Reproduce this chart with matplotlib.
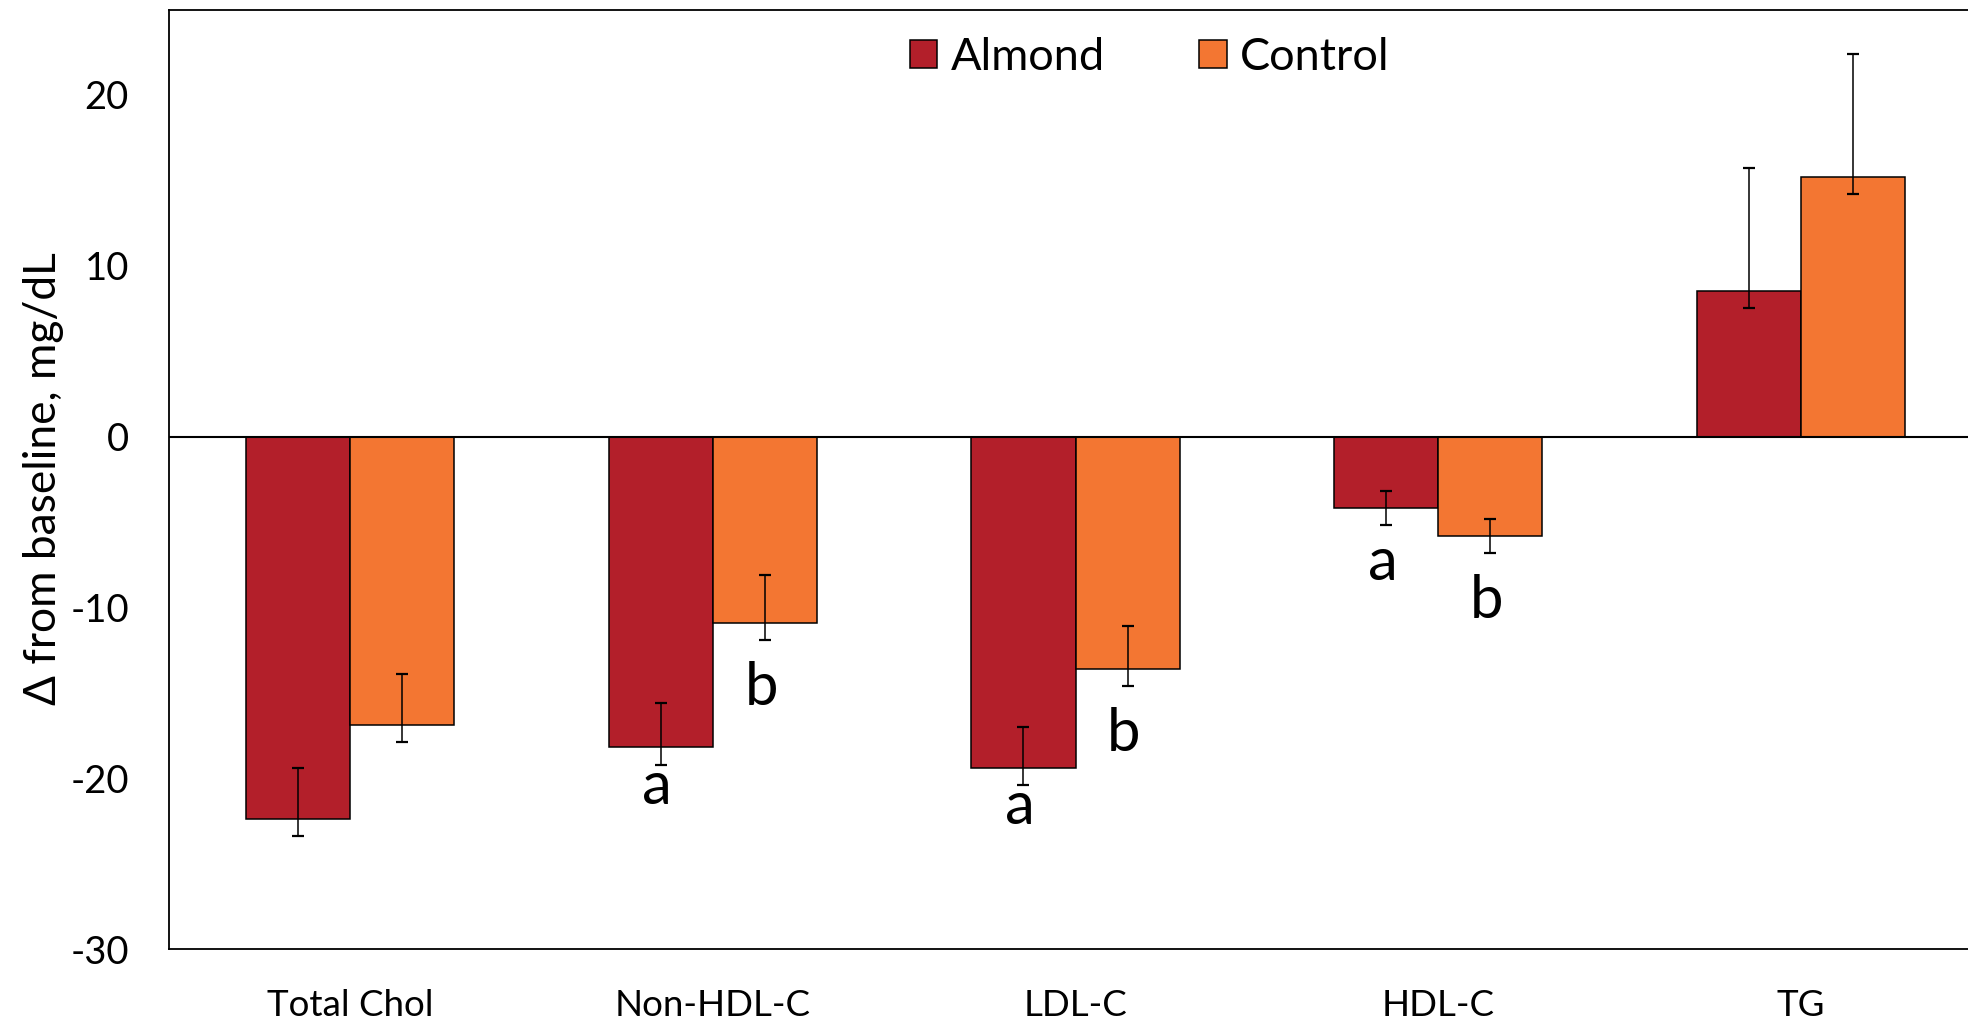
import numpy as np
import matplotlib.pyplot as plt

plt.rcParams['font.family'] = ['Lato', 'DejaVu Sans']
plt.rcParams['axes.unicode_minus'] = False

categories = ['Total Chol', 'Non-HDL-C', 'LDL-C', 'HDL-C', 'TG']
groups = ['Almond', 'Control']

# change from baseline, mg/dL
almond = [-22.4, -18.2, -19.4, -4.2, 8.5]
control = [-16.9, -10.9, -13.6, -5.8, 15.2]

# error bars are asymmetric (lower, upper)
almond_err_low = [1.0, 1.0, 1.0, 1.0, 1.0]
almond_err_high = [3.0, 2.6, 2.4, 1.0, 7.2]
control_err_low = [1.0, 1.0, 1.0, 1.0, 1.0]
control_err_high = [3.0, 2.8, 2.5, 1.0, 7.2]

# significance letters: (category index, group, letter)
letters = [(1, 'Almond', 'a'), (1, 'Control', 'b'),
           (2, 'Almond', 'a'), (2, 'Control', 'b'),
           (3, 'Almond', 'a'), (3, 'Control', 'b')]

red = '#B31F2A'
orange = '#F37632'

fig = plt.figure(figsize=(19.68, 10.22), dpi=100)
ax = fig.add_axes([0.0859, 0.0714, 0.9212, 0.9193])

x = np.arange(len(categories))
w = 0.287

ax.bar(x - w / 2, almond, w, color=red, edgecolor='black', linewidth=1.1,
       label='Almond', zorder=2)
ax.bar(x + w / 2, control, w, color=orange, edgecolor='black', linewidth=1.1,
       label='Control', zorder=2)

ax.errorbar(x - w / 2, almond, yerr=[almond_err_low, almond_err_high], fmt='none',
            ecolor='black', elinewidth=1.1, capsize=4, capthick=1.6, zorder=3)
ax.errorbar(x + w / 2, control, yerr=[control_err_low, control_err_high], fmt='none',
            ecolor='black', elinewidth=1.1, capsize=4, capthick=1.6, zorder=3)

ax.axhline(0, color='black', linewidth=1.5, zorder=4)

# letters sit under the lower whisker
offsets = {'a': 2.3, 'b': 3.8}
for i, g, s in letters:
    if g == 'Almond':
        xpos, base = x[i] - w / 2, almond[i] - almond_err_low[i]
    else:
        xpos, base = x[i] + w / 2, control[i] - control_err_low[i]
    off = offsets[s] if i != 3 or s == 'b' else 3.2
    ax.text(xpos - 0.01, base - off, s, ha='center', va='baseline', fontsize=43)

ax.set_xlim(-0.5, 4.5)
ax.set_ylim(-30, 25)
ax.set_yticks([-30, -20, -10, 0, 10, 20])
ax.set_xticks(x)
ax.set_xticklabels(categories, fontsize=26.5)
ax.tick_params(axis='y', length=0, pad=29, labelsize=27.5)
ax.tick_params(axis='x', length=0, pad=29)

for side in ['left', 'top', 'bottom', 'right']:
    ax.spines[side].set_linewidth(1.3)
    ax.spines[side].set_color('black')

# y label centred on the axes, sized to span ~452 px
ylab = fig.text(44 / 1968, 1 - 479 / 1022, 'Δ from baseline, mg/dL', rotation=90,
                ha='center', va='center', fontsize=30)
fig.canvas.draw()
ylab.set_fontsize(30 * 452 / ylab.get_window_extent().height)

ax.legend(loc='center', bbox_to_anchor=(0.541, 0.949), ncol=2, frameon=False,
          fontsize=32.5, handlelength=0.6, handleheight=0.6, handletextpad=0.3,
          columnspacing=2.1)

fig.savefig('out.png', dpi=100)
